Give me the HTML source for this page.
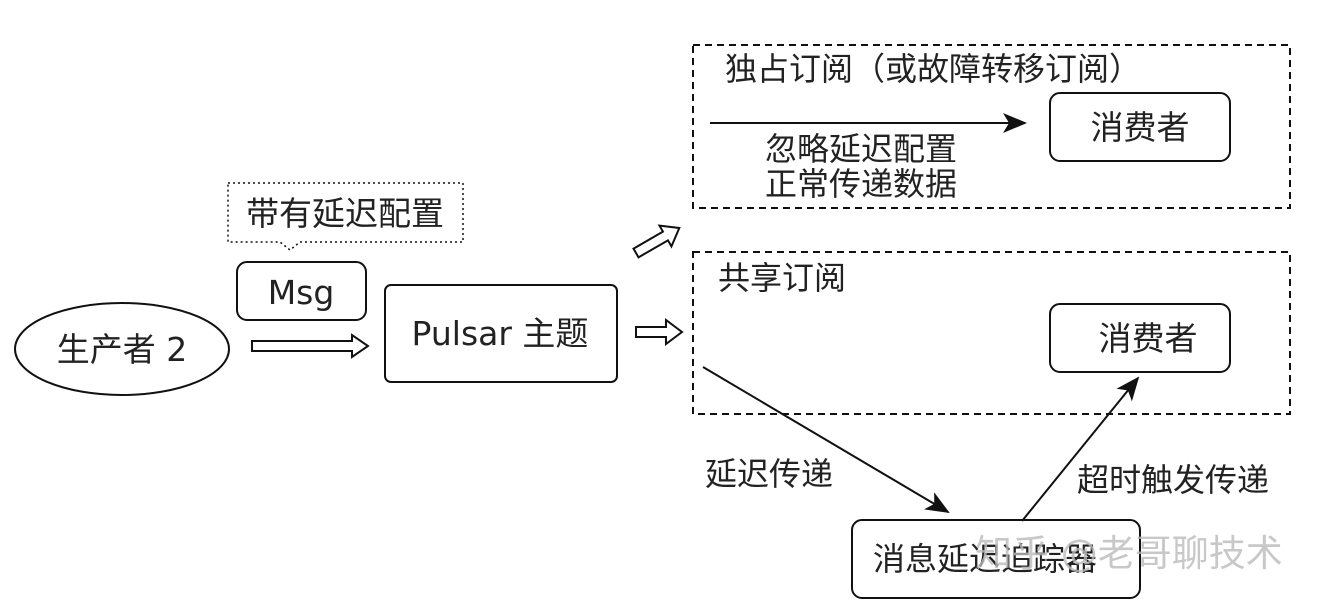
<!DOCTYPE html>
<html><head><meta charset="utf-8"><style>
body{margin:0;background:#fff;}
svg text{font-family:"DejaVu Sans","Noto Sans CJK SC",sans-serif;fill:#222;}
</style></head><body>
<svg width="1333" height="608" viewBox="0 0 1333 608" xmlns="http://www.w3.org/2000/svg">
<defs>
<marker id="ah2" markerWidth="24" markerHeight="20" refX="22" refY="10" orient="auto" markerUnits="userSpaceOnUse" viewBox="0 0 24 20"><path d="M0,0 L24,10 L0,20 L6,10 z" fill="#111"/></marker></defs>
<g fill="none" stroke="#111" stroke-width="2">
<ellipse cx="122" cy="349" rx="107" ry="46"/>
<path d="M228,183 H463 V242 H300 L290,250 L280,242 H228 Z" stroke-dasharray="2,3" stroke-width="1.5"/>
<rect x="237" y="262" width="129" height="58" rx="10"/>
<path d="M252,341 H352 V335 L368,346 L352,357 V351 H252 Z"/>
<rect x="385" y="285" width="232" height="97" rx="6"/>
<path d="M636,327 H666 V320 L682,332 L666,344 V337 H636 Z"/>
<g transform="translate(636,253) rotate(-30)"><path d="M0,-5 H34 V-12 L50,0 L34,12 V5 H0 Z"/></g>
<rect x="693" y="45" width="597" height="163" stroke-dasharray="7,5"/>
<rect x="693" y="252" width="597" height="162" stroke-dasharray="7,5"/>
<rect x="1050" y="93" width="180" height="68" rx="10"/>
<rect x="1050" y="304" width="180" height="68" rx="10"/>
<rect x="852" y="520" width="288" height="78" rx="10"/>
<line x1="710" y1="123" x2="1025" y2="123" marker-end="url(#ah2)"/>
<line x1="703" y1="367" x2="948" y2="512" marker-end="url(#ah2)"/>
<line x1="1022" y1="521" x2="1138" y2="378" marker-end="url(#ah2)"/>
</g>
<g font-size="33">
<text x="122" y="361" text-anchor="middle">生产者 2</text>
<text x="345" y="225" text-anchor="middle">带有延迟配置</text>
<text x="301" y="304" text-anchor="middle">Msg</text>
<text x="500" y="345" text-anchor="middle">Pulsar 主题</text>
<text x="1140" y="139" text-anchor="middle">消费者</text>
<text x="1148" y="350" text-anchor="middle">消费者</text>
</g>
<g font-size="32">
<text x="725" y="80">独占订阅（或故障转移订阅）</text>
<text x="765" y="160">忽略延迟配置</text>
<text x="765" y="195">正常传递数据</text>
<text x="718" y="289">共享订阅</text>
<text x="705" y="485">延迟传递</text>
<text x="1077" y="491">超时触发传递</text>
<text x="873" y="570">消息延迟追踪器</text>
</g>
<text x="975" y="566" font-size="37" style="fill:#bbb;opacity:0.8">知乎 @老哥聊技术</text>
</svg>
</body></html>
